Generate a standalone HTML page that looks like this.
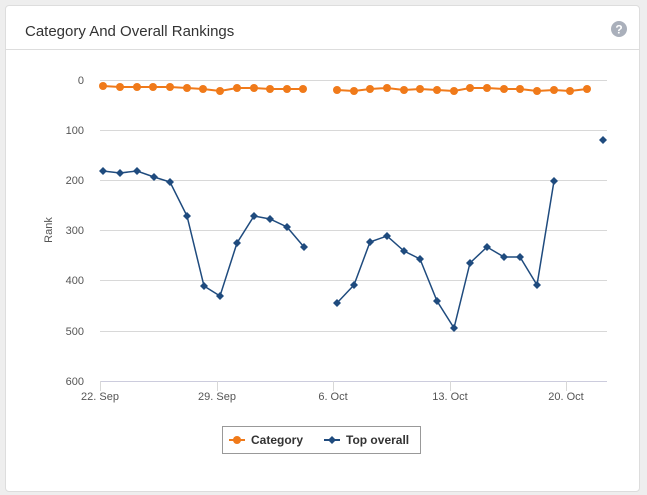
<!DOCTYPE html><html><head><style>
body{margin:0;background:#eeeeee;width:647px;height:495px;overflow:hidden;font-family:"Liberation Sans",sans-serif}
.card{position:absolute;left:5px;top:5px;width:633px;height:485px;background:#fff;border:1px solid #ddd;border-radius:4px}
.t{position:absolute;left:19px;top:17px;font-size:15px;color:#333}
.hr{position:absolute;left:0;top:43px;width:633px;border-top:1px solid #ddd}
</style></head><body>
<div class="card"><div class="t">Category And Overall Rankings</div><div class="hr"></div></div>
<svg width="647" height="495" style="position:absolute;left:0;top:0" font-family="Liberation Sans, sans-serif">
<circle cx="619" cy="29" r="8" fill="#aab0bb"/><text x="619" y="33.5" font-size="12" font-weight="bold" fill="#fff" text-anchor="middle">?</text>
<g stroke="#d8d8d8" stroke-width="1">
<line x1="100" x2="607" y1="80.5" y2="80.5"/><line x1="100" x2="607" y1="130.5" y2="130.5"/><line x1="100" x2="607" y1="180.5" y2="180.5"/><line x1="100" x2="607" y1="230.5" y2="230.5"/><line x1="100" x2="607" y1="280.5" y2="280.5"/><line x1="100" x2="607" y1="331.5" y2="331.5"/>
<line x1="100" x2="607" y1="381.5" y2="381.5" stroke="#ccd"/>
<line x1="100.5" x2="100.5" y1="381" y2="391"/><line x1="217.5" x2="217.5" y1="381" y2="391"/><line x1="333.5" x2="333.5" y1="381" y2="391"/><line x1="450.5" x2="450.5" y1="381" y2="391"/><line x1="566.5" x2="566.5" y1="381" y2="391"/>
</g>
<g font-size="11" fill="#555" text-anchor="end">
<text x="84" y="84">0</text><text x="84" y="134">100</text><text x="84" y="184">200</text><text x="84" y="234">300</text><text x="84" y="284">400</text><text x="84" y="335">500</text><text x="84" y="385">600</text></g>
<g font-size="11" fill="#555" text-anchor="middle">
<text x="100" y="400">22. Sep</text><text x="217" y="400">29. Sep</text><text x="333" y="400">6. Oct</text><text x="450" y="400">13. Oct</text><text x="566" y="400">20. Oct</text></g>
<text transform="translate(52,230) rotate(-90)" font-size="11" fill="#555" text-anchor="middle">Rank</text>
<g fill="none" stroke="#1f4b7e" stroke-width="1.5">
<polyline points="103,171 120,173 137,171 154,177 170,182 187,216 204,286 220,296 237,243 254,216 270,219 287,227 304,247"/>
<polyline points="337,303 354,285 370,242 387,236 404,251 420,259 437,301 454,328 470,263 487,247 504,257 520,257 537,285 554,181"/>
</g>
<g fill="#1f4b7e" id="d"></g>
<g fill="none" stroke="#f07a1a" stroke-width="2">
<polyline class="cat" points="103,86 120,87 137,87 153,87 170,87 187,88 203,89 220,91 237,88 254,88 270,89 287,89 303,89"/>
<polyline class="cat" points="337,90 354,91 370,89 387,88 404,90 420,89 437,90 454,91 470,88 487,88 504,89 520,89 537,91 554,90 570,91 587,89"/>
</g>
<g fill="#f07a1a" id="c"></g>
<rect x="222.5" y="426.5" width="198" height="27" fill="#fff" stroke="#999"/>
<line x1="229" x2="245" y1="440" y2="440" stroke="#f07a1a" stroke-width="2"/><circle cx="237" cy="440" r="4" fill="#f07a1a"/>
<text x="251" y="444" font-size="12" font-weight="bold" fill="#333">Category</text>
<line x1="324" x2="340" y1="440" y2="440" stroke="#1f4b7e" stroke-width="2"/><path d="M332 436 L336 440 L332 444 L328 440Z" fill="#1f4b7e"/>
<text x="346" y="444" font-size="12" font-weight="bold" fill="#333">Top overall</text>
</svg>
<script>
(function(){
var ns="http://www.w3.org/2000/svg";
var T=[[103,171],[120,173],[137,171],[154,177],[170,182],[187,216],[204,286],[220,296],[237,243],[254,216],[270,219],[287,227],[304,247],[337,303],[354,285],[370,242],[387,236],[404,251],[420,259],[437,301],[454,328],[470,263],[487,247],[504,257],[520,257],[537,285],[554,181],[603,140]];
var d=document.getElementById('d');
T.forEach(function(q){var x=q[0],y=q[1];var p=document.createElementNS(ns,'path');p.setAttribute('d','M'+x+' '+(y-4)+'L'+(x+4)+' '+y+'L'+x+' '+(y+4)+'L'+(x-4)+' '+y+'Z');d.appendChild(p);});
var c=document.getElementById('c');
document.querySelectorAll('polyline.cat').forEach(function(pl){pl.getAttribute('points').split(' ').forEach(function(s){var a=s.split(',');var e=document.createElementNS(ns,'circle');e.setAttribute('cx',a[0]);e.setAttribute('cy',a[1]);e.setAttribute('r',4);c.appendChild(e);});});
})();
</script>
</body></html>
